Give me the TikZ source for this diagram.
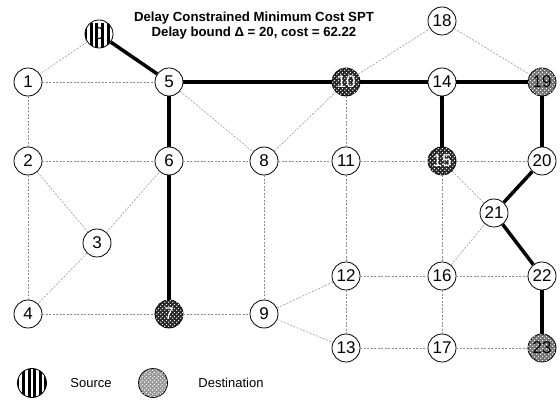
\documentclass[tikz,border=0pt]{standalone}
\usepackage{fontspec}
\setmainfont{Liberation Sans}
\usetikzlibrary{patterns}
% white dot lattice for destination vertices
\pgfdeclarepatternformonly{dotgrid}{\pgfpointorigin}{\pgfpoint{4pt}{4pt}}{\pgfpoint{4pt}{4pt}}{%
  \pgfpathcircle{\pgfpoint{1pt}{1pt}}{0.85pt}%
  \pgfpathcircle{\pgfpoint{3pt}{3pt}}{0.85pt}\pgfusepath{fill}}
\tikzset{
  vtx/.style={circle, draw=black, line width=0.8pt, fill=white, minimum size=28pt,
    inner sep=0pt, font=\fontsize{17}{17}\selectfont},
  src/.style={vtx, path picture={
      \begin{scope}[shift={(path picture bounding box.center)}]
        \foreach \k in {-3,...,2} \fill[black] (\k*5.6+1.2,-17) rectangle +(2.9,34);
      \end{scope}}},
  dstdark/.style={vtx, fill=black!85, text=white,
    postaction={pattern=dotgrid, pattern color=white}},
  dstlight/.style={vtx, fill=black!55,
    postaction={pattern=dotgrid, pattern color=white}},
  link/.style={draw=black!45, line width=0.5pt, dash pattern=on 2pt off 1.5pt},
  tree/.style={draw=black, line width=3.5pt},
  legendtext/.style={font=\fontsize{13}{15}\selectfont},
}
\begin{document}
\begin{tikzpicture}[x=1pt, y=-1pt]
\useasboundingbox (0,0) rectangle (560,403);
% title
\node[font=\bfseries\fontsize{13.2}{15}\selectfont, align=center] (title) at (254,26)
  {Delay Constrained Minimum Cost SPT\\Delay bound Δ = 20, cost = 62.22};
% vertices
\node[src] (n0) at (99,34) {0};
\node[vtx] (n1) at (28,82) {1};
\node[vtx] (n2) at (28,161) {2};
\node[vtx] (n3) at (97,243) {3};
\node[vtx] (n4) at (28,314) {4};
\node[vtx] (n5) at (169,82) {5};
\node[vtx] (n6) at (169,161) {6};
\node[dstdark] (n7) at (169,314) {7};
\node[vtx] (n8) at (264,161) {8};
\node[vtx] (n9) at (264,314) {9};
\node[dstdark] (n10) at (346,82) {10};
\node[vtx] (n11) at (346,161) {11};
\node[vtx] (n12) at (346,276) {12};
\node[vtx] (n13) at (346,348) {13};
\node[vtx] (n14) at (442,82) {14};
\node[dstdark] (n15) at (442,161) {15};
\node[vtx] (n16) at (442,276) {16};
\node[vtx] (n17) at (442,348) {17};
\node[vtx] (n18) at (442,21) {18};
\node[dstlight] (n19) at (542,82) {19};
\node[vtx] (n20) at (542,161) {20};
\node[vtx] (n21) at (494,213) {21};
\node[vtx] (n22) at (542,276) {22};
\node[dstlight] (n23) at (542,348) {23};
% network links
\foreach \a/\b in {0/1, 1/5, 1/2, 2/6, 2/3, 2/4, 3/6, 3/4, 4/7, 5/8, 6/8, 8/10, 8/9,
  8/11, 10/11, 10/18, 18/19, 11/15, 15/20, 11/12, 15/21, 15/16, 16/21, 16/17,
  12/16, 16/22, 12/13, 9/12, 9/13, 7/9, 13/17, 17/23}
  \draw[link] (n\a) -- (n\b);
% spanning tree
\foreach \a/\b in {0/5, 5/10, 10/14, 14/19, 14/15, 19/20, 20/21, 21/22, 22/23, 5/6, 6/7}
  \draw[tree] (n\a) -- (n\b);
% legend
\node[src, minimum size=29pt] (lsrc) at (32,383) {};
\node[legendtext] (lsrctxt) at (91,383) {Source};
\node[dstlight, fill=black!40, minimum size=29pt] (ldst) at (153,383) {};
\node[legendtext] (ldsttxt) at (231,383) {Destination};
\end{tikzpicture}
\end{document}
